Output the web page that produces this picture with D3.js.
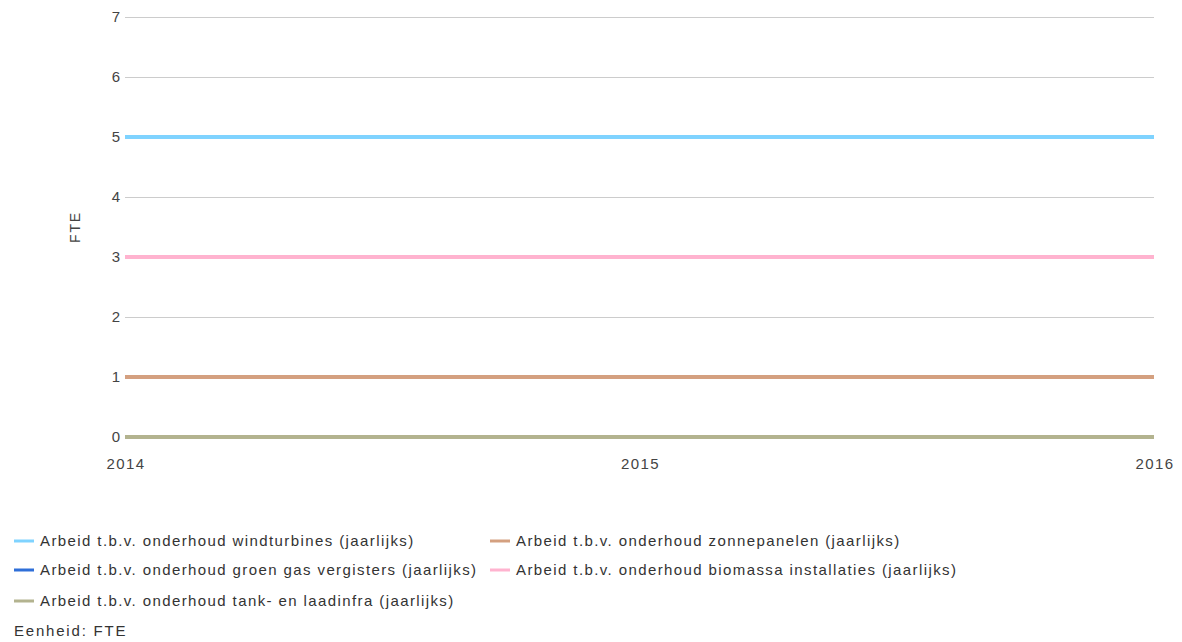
<!DOCTYPE html>
<html><head><meta charset="utf-8">
<script src="https://cdn.jsdelivr.net/npm/d3@7"></script>
<style>
body{margin:0;background:#fff;}
text{font-family:"Liberation Sans",Arial,sans-serif;}
</style></head>
<body><svg id="c" width="1182" height="642"></svg>
<script>
const years = [2014, 2015, 2016];
const yTicks = [0,1,2,3,4,5,6,7];
const seriesNames = [
  "Arbeid t.b.v. onderhoud windturbines (jaarlijks)",
  "Arbeid t.b.v. onderhoud zonnepanelen (jaarlijks)",
  "Arbeid t.b.v. onderhoud groen gas vergisters (jaarlijks)",
  "Arbeid t.b.v. onderhoud biomassa installaties (jaarlijks)",
  "Arbeid t.b.v. onderhoud tank- en laadinfra (jaarlijks)"
];
const seriesColors = ["#7fd3ff","#d4a080","#2f6fd8","#ffb3cf","#b3b38f"];
const windValues = [5,5,5];
const zonValues = [1,1,1];
const gasValues = [0,0,0];
const biomassaValues = [3,3,3];
const tankValues = [0,0,0];
const seriesValues = [windValues, zonValues, gasValues, biomassaValues, tankValues];
const unitLabel = "Eenheid: FTE";
const yLabel = "FTE";

const svg = d3.select("#c");
const L = 125, R = 1154, T = 17, B = 437;
const x = d3.scaleLinear().domain([2014, 2016]).range([L, R]);
const y = d3.scaleLinear().domain([0, 7]).range([B, T]);

// gridlines
svg.append("g").selectAll("line").data(yTicks).join("line")
  .attr("x1", L).attr("x2", R)
  .attr("y1", d => y(d) + 0.5).attr("y2", d => y(d) + 0.5)
  .attr("stroke", "#cccccc").attr("stroke-width", 1);

// y tick labels
svg.append("g").selectAll("text").data(yTicks).join("text")
  .attr("x", L - 5).attr("y", d => y(d)).attr("dy", "0.35em")
  .attr("text-anchor", "end").attr("font-size", 15).attr("fill", "#444")
  .text(d => d);

// x tick labels
svg.append("g").selectAll("text").data(years).join("text")
  .attr("x", d => x(d) + 1).attr("y", 469)
  .attr("text-anchor", "middle")
  .attr("font-size", 15).attr("letter-spacing", 1.4).attr("fill", "#444")
  .text(d => d);

// y label
svg.append("text").attr("transform", `translate(80,${(T + B) / 2}) rotate(-90)`)
  .attr("text-anchor", "middle").attr("font-size", 14).attr("letter-spacing", 1.8)
  .attr("fill", "#444").text(yLabel);

// lines
const line = d3.line().x((d, i) => x(years[i])).y(d => y(d));
svg.append("g").selectAll("path").data(seriesValues).join("path")
  .attr("d", d => line(d))
  .attr("fill", "none")
  .attr("stroke", (d, i) => seriesColors[i])
  .attr("stroke-width", 4);

// legend
const legendPos = [[14, 541], [490, 541], [14, 570], [490, 570], [14, 601]];
const lg = svg.append("g").selectAll("g").data(seriesNames).join("g")
  .attr("transform", (d, i) => `translate(${legendPos[i][0]},${legendPos[i][1]})`);
lg.append("line").attr("x1", 0).attr("x2", 20).attr("y1", 0).attr("y2", 0)
  .attr("stroke", (d, i) => seriesColors[i]).attr("stroke-width", 3);
lg.append("text").attr("x", 26).attr("y", 0).attr("dy", "0.35em")
  .attr("font-size", 15).attr("letter-spacing", 1.4).attr("fill", "#333").text(d => d);

svg.append("text").attr("x", 14).attr("y", 631).attr("dy", "0.35em")
  .attr("font-size", 15).attr("letter-spacing", 1.8).attr("fill", "#333").text(unitLabel);
</script></body></html>
